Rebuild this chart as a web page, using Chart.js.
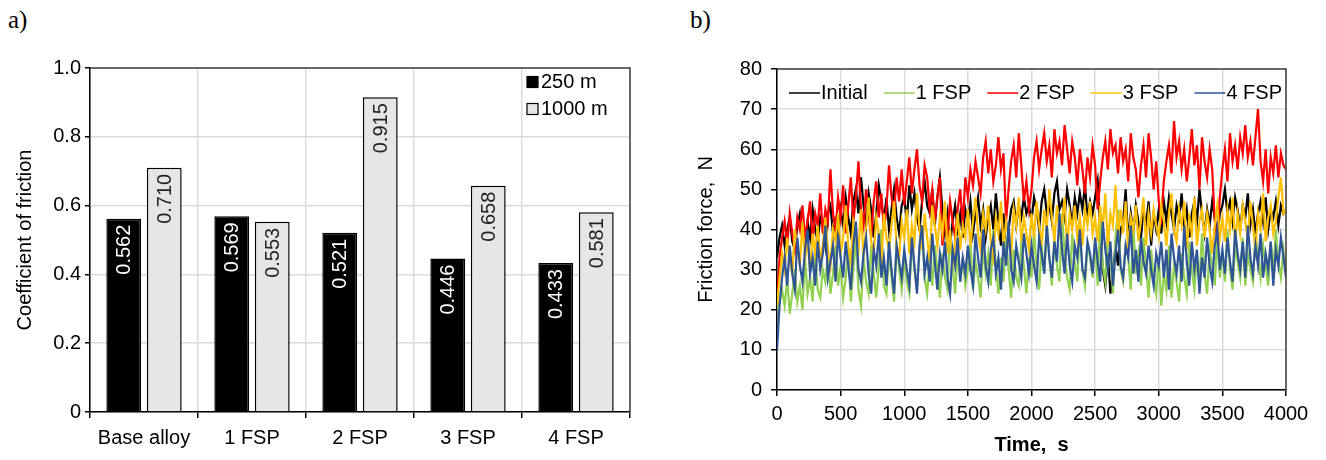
<!DOCTYPE html>
<html>
<head>
<meta charset="utf-8">
<script src="https://cdn.jsdelivr.net/npm/chart.js@4.4.1/dist/chart.umd.min.js"></script>
<style>
  body { margin: 0; background: #fff; width: 1326px; height: 460px; position: relative; overflow: hidden; }
  .panel { position: absolute; top: 0; height: 460px; }
  #boxA { left: 0; width: 660px; }
  #boxB { left: 660px; width: 666px; }
  .tag { position: absolute; top: 6px; font-family: "Liberation Serif", "Times New Roman", serif; font-size: 25px; color: #000; }
</style>
</head>
<body>
<div class="tag" style="left:8px">a)</div>
<div class="tag" style="left:690px">b)</div>
<div id="boxA" class="panel"><canvas id="chartA"></canvas></div>
<div id="boxB" class="panel"><canvas id="chartB"></canvas></div>
<script>
const FONT = '"Liberation Sans", Arial, sans-serif';

// panel a
const CATEGORIES = ['Base alloy', '1 FSP', '2 FSP', '3 FSP', '4 FSP'];
const COF_250 = [0.562, 0.569, 0.521, 0.446, 0.433];
const COF_1000 = [0.710, 0.553, 0.915, 0.658, 0.581];

// panel b, one reading every 20 s from 0 to 4000 s (25 per row = 500 s)
const TIME_STEP_S = 20;
const FORCE_INITIAL = [
  33, 38, 41, 36, 40, 43, 37, 35, 41, 44, 39, 36, 42, 38, 45, 40, 37, 43, 41, 36, 44, 46, 39, 42, 38,
  45, 41, 48, 43, 39, 47, 50, 44, 53, 46, 41, 49, 45, 38, 44, 51, 47, 42, 48, 40, 45, 50, 43, 39, 46,
  48, 42, 51, 45, 49, 43, 40, 47, 52, 46, 44, 50, 41, 48, 53, 45, 39, 44, 36, 42, 46, 40, 44, 38, 45,
  42, 47, 39, 44, 48, 41, 45, 38, 43, 46, 40, 49, 42, 36, 44, 32, 40, 45, 47, 41, 46, 43, 48, 44, 46,
  42, 48, 45, 40, 47, 50, 44, 46, 42, 49, 52, 45, 47, 43, 50, 46, 41, 48, 44, 49, 45, 51, 43, 47, 44,
  48, 52, 40, 30, 26, 34, 24, 29, 36, 31, 40, 42, 50, 37, 44, 39, 46, 42, 38, 45, 41, 47, 36, 44, 40,
  45, 39, 47, 42, 48, 44, 40, 46, 43, 49, 41, 45, 38, 44, 47, 42, 50, 44, 39, 45, 41, 47, 43, 38, 44,
  46, 50, 44, 47, 42, 48, 45, 40, 46, 43, 49, 41, 45, 39, 44, 47, 42, 48, 40, 45, 43, 47, 41, 46, 44,
  45
];
const FORCE_1FSP = [
  20, 22, 25, 21, 28, 19, 24, 30, 22, 26, 20, 33, 24, 28, 22, 35, 25, 23, 30, 27, 34, 24, 29, 36, 26,
  31, 23, 28, 35, 22, 30, 38, 25, 21, 33, 27, 24, 36, 29, 23, 31, 40, 26, 24, 34, 28, 22, 37, 30, 25,
  33, 27, 24, 38, 30, 25, 35, 41, 28, 24, 32, 26, 36, 30, 23, 34, 28, 25, 39, 31, 24, 35, 27, 33, 26,
  30, 37, 25, 32, 28, 23, 36, 29, 34, 26, 40, 31, 24, 33, 27, 38, 30, 23, 35, 28, 26, 37, 31, 24, 33,
  28, 40, 30, 25, 36, 29, 42, 33, 26, 38, 31, 27, 44, 34, 28, 25, 39, 32, 27, 41, 30, 26, 36, 33, 28,
  37, 26, 43, 31, 27, 40, 34, 24, 38, 45, 30, 27, 36, 33, 25, 41, 29, 34, 26, 38, 31, 23, 35, 28, 24,
  33, 21, 29, 25, 36, 23, 31, 27, 22, 34, 28, 24, 37, 30, 25, 33, 27, 39, 29, 24, 35, 31, 26, 38, 28,
  34, 27, 40, 30, 25, 36, 32, 28, 38, 26, 34, 30, 27, 39, 33, 28, 36, 31, 26, 37, 29, 40, 32, 28, 35,
  30
];
const FORCE_2FSP = [
  22, 33, 38, 42, 36, 44, 39, 35, 43, 40, 46, 38, 42, 47, 37, 44, 41, 49, 39, 45, 42, 55, 44, 40, 48,
  43, 51, 39, 46, 53, 42, 48, 57, 45, 41, 50, 44, 38, 47, 52, 43, 49, 40, 45, 56, 48, 44, 53, 47, 55,
  46, 52, 58, 49, 55, 60, 51, 47, 56, 53, 45, 50, 42, 48, 53, 36, 44, 39, 47, 42, 38, 45, 50, 41, 53,
  48, 55, 51, 57, 53, 49, 58, 62, 54, 60, 52, 56, 63, 55, 59, 42, 50, 57, 61, 53, 64, 56, 47, 52, 45,
  50, 58, 62, 55, 60, 64, 57, 61, 53, 65, 59, 62, 56, 66, 60, 54, 62, 58, 51, 60, 55, 49, 58, 53, 61,
  56, 45, 52, 58, 62, 55, 65, 59, 61, 54, 63, 57, 60, 52, 64, 58, 55, 48, 56, 61, 53, 64, 58, 50, 57,
  47, 43, 52, 57, 61, 54, 67, 58, 62, 55, 60, 52, 58, 65, 56, 61, 50, 63, 57, 53, 60, 55, 42, 38, 48,
  55, 60, 52, 64, 57, 61, 55, 63, 59, 66, 58, 62, 56, 63, 70, 57, 52, 60, 49, 58, 54, 61, 53, 59, 56,
  55
];
const FORCE_3FSP = [
  21, 28, 34, 30, 38, 32, 29, 40, 35, 31, 42, 33, 37, 30, 39, 34, 41, 32, 36, 43, 35, 31, 40, 37, 44,
  34, 38, 46, 36, 32, 42, 39, 35, 45, 33, 40, 48, 37, 34, 43, 39, 31, 44, 38, 35, 41, 47, 36, 33, 42,
  38, 45, 34, 41, 37, 49, 40, 35, 44, 38, 32, 46, 41, 36, 43, 39, 47, 34, 40, 31, 37, 44, 35, 41, 38,
  45, 36, 42, 48, 39, 35, 44, 40, 46, 37, 33, 43, 39, 47, 36, 42, 38, 34, 45, 41, 48, 37, 43, 39, 35,
  44, 38, 47, 41, 36, 45, 40, 50, 43, 37, 46, 39, 42, 48, 35, 44, 40, 46, 38, 43, 36, 45, 41, 47, 39,
  43, 37, 46, 40, 49, 36, 44, 41, 51, 38, 45, 39, 47, 35, 43, 40, 46, 37, 42, 48, 36, 44, 39, 45, 41,
  38, 46, 42, 36, 44, 49, 40, 37, 45, 41, 47, 35, 43, 39, 48, 36, 42, 45, 38, 44, 40, 34, 41, 46, 38,
  43, 37, 45, 40, 48, 36, 44, 39, 46, 42, 38, 47, 41, 35, 44, 40, 49, 37, 43, 46, 39, 42, 48, 53, 44,
  45
];
const FORCE_4FSP = [
  10, 21, 28, 33, 26, 36, 29, 25, 38, 31, 27, 35, 40, 29, 33, 26, 37, 30, 34, 41, 28, 32, 36, 27, 39,
  33, 28, 37, 31, 25, 36, 42, 30, 27, 34, 38, 29, 24, 35, 31, 39, 28, 33, 26, 37, 30, 24, 36, 32, 28,
  35, 30, 26, 38, 31, 24, 36, 41, 29, 33, 27, 39, 32, 25, 34, 30, 37, 28, 24, 35, 31, 38, 27, 33, 29,
  36, 30, 26, 39, 33, 28, 40, 31, 27, 35, 38, 29, 33, 25, 37, 31, 42, 30, 27, 36, 32, 28, 39, 34, 29,
  36, 31, 27, 38, 34, 29, 41, 33, 28, 37, 32, 44, 35, 29, 39, 31, 27, 36, 33, 40, 30, 28, 37, 34, 29,
  38, 32, 27, 42, 35, 30, 37, 26, 34, 40, 31, 28, 36, 33, 41, 29, 35, 27, 38, 32, 29, 36, 30, 26, 34,
  31, 37, 28, 35, 25, 39, 33, 29, 36, 27, 41, 32, 26, 37, 30, 35, 24, 33, 28, 38, 31, 27, 36, 40, 30,
  35, 29, 38, 32, 27, 40, 34, 30, 37, 28, 41, 33, 29, 36, 31, 39, 28, 34, 30, 37, 26, 35, 31, 38, 33,
  28
];

const GRID = '#dcdcdc';

function toPoints(values) {
  return values.map((v, i) => ({ x: i * TIME_STEP_S, y: v }));
}

// dark top/right border of the plot box
const frame = {
  id: 'frame',
  afterDraw(chart) {
    const { ctx, chartArea: a } = chart;
    ctx.save();
    ctx.strokeStyle = '#404040';
    ctx.lineWidth = 1.5;
    ctx.beginPath();
    ctx.moveTo(a.left, a.top);
    ctx.lineTo(a.right, a.top);
    ctx.lineTo(a.right, a.bottom);
    ctx.stroke();
    ctx.restore();
  }
};

// vertical value labels inside the bars
const barLabels = {
  id: 'barLabels',
  afterDatasetsDraw(chart) {
    const { ctx } = chart;
    ctx.save();
    ctx.font = `20px ${FONT}`;
    ctx.textAlign = 'right';
    ctx.textBaseline = 'middle';
    chart.data.datasets.forEach((ds, di) => {
      chart.getDatasetMeta(di).data.forEach((bar, i) => {
        ctx.save();
        ctx.translate(bar.x, bar.y + 6);
        ctx.rotate(-Math.PI / 2);
        ctx.fillStyle = ds.labelColor;
        ctx.fillText(ds.data[i].toFixed(3), 0, 1);
        ctx.restore();
      });
    });
    ctx.restore();
  }
};

const legendA = {
  id: 'legendA',
  afterDraw(chart) {
    const { ctx } = chart;
    ctx.save();
    ctx.font = `20px ${FONT}`;
    ctx.textBaseline = 'middle';
    chart.data.datasets.forEach((ds, i) => {
      const y = 82 + i * 27;
      ctx.fillStyle = ds.backgroundColor;
      ctx.fillRect(527, y - 5.5, 11, 11);
      ctx.strokeStyle = '#000';
      ctx.lineWidth = 1.2;
      ctx.strokeRect(527, y - 5.5, 11, 11);
      ctx.fillStyle = '#000';
      ctx.fillText(ds.label, 541, y);
    });
    ctx.restore();
  }
};

const legendB = {
  id: 'legendB',
  afterDraw(chart) {
    const { ctx } = chart;
    ctx.save();
    ctx.font = `20px ${FONT}`;
    ctx.textBaseline = 'middle';
    let x = 129;
    const y = 93;
    chart.data.datasets.forEach(ds => {
      ctx.strokeStyle = ds.borderColor;
      ctx.lineWidth = 1.5;
      ctx.beginPath();
      ctx.moveTo(x, y);
      ctx.lineTo(x + 31, y);
      ctx.stroke();
      ctx.fillStyle = '#000';
      ctx.fillText(ds.label, x + 32, y);
      x += 32 + ctx.measureText(ds.label).width + 16;
    });
    ctx.restore();
  }
};

new Chart(document.getElementById('chartA'), {
  type: 'bar',
  data: {
    labels: CATEGORIES,
    datasets: [
      { label: '250 m', data: COF_250, backgroundColor: '#000', borderColor: '#000', borderWidth: 1.5, labelColor: '#fff' },
      { label: '1000 m', data: COF_1000, backgroundColor: '#e6e6e6', borderColor: '#000', borderWidth: 1.5, labelColor: '#222' }
    ]
  },
  options: {
    responsive: true,
    maintainAspectRatio: false,
    animation: false,
    events: [],
    layout: { padding: { top: 68, right: 30, left: 0, bottom: 0 } },
    datasets: { bar: { categoryPercentage: 0.75, barPercentage: 0.86 } },
    plugins: { legend: { display: false }, tooltip: { enabled: false } },
    scales: {
      x: {
        grid: { color: GRID, lineWidth: 1.5, tickColor: '#000', tickLength: 6 },
        border: { color: '#000', width: 1.5 },
        ticks: { color: '#000', font: { family: FONT, size: 20 }, padding: 8 },
        afterFit: s => { s.height = 48; }
      },
      y: {
        min: 0, max: 1,
        grid: { color: GRID, lineWidth: 1.5, tickColor: '#000', tickLength: 5 },
        border: { color: '#000', width: 1.5 },
        ticks: { stepSize: 0.2, color: '#000', font: { family: FONT, size: 20 }, padding: 4,
          callback: v => v === 0 ? '0' : v.toFixed(1) },
        title: { display: true, text: 'Coefficient of friction', color: '#000',
          font: { family: FONT, size: 20 }, padding: { top: 13, bottom: 0 } },
        afterFit: s => { s.width = 90; }
      }
    }
  },
  plugins: [frame, barLabels, legendA]
});

const SERIES = [
  { label: 'Initial', values: FORCE_INITIAL, color: '#000000' },
  { label: '1 FSP', values: FORCE_1FSP, color: '#92d050' },
  { label: '2 FSP', values: FORCE_2FSP, color: '#ff0000' },
  { label: '3 FSP', values: FORCE_3FSP, color: '#ffc000' },
  { label: '4 FSP', values: FORCE_4FSP, color: '#2f5597' }
];

new Chart(document.getElementById('chartB'), {
  type: 'line',
  data: {
    datasets: SERIES.map((s, i) => ({
      label: s.label,
      data: toPoints(s.values),
      borderColor: s.color,
      backgroundColor: s.color,
      borderWidth: 2.2,
      pointRadius: 0,
      tension: 0,
      order: SERIES.length - i
    }))
  },
  options: {
    responsive: true,
    maintainAspectRatio: false,
    animation: false,
    events: [],
    layout: { padding: { top: 69, right: 40, left: 0, bottom: 0 } },
    plugins: { legend: { display: false }, tooltip: { enabled: false } },
    scales: {
      x: {
        type: 'linear', min: 0, max: 4000,
        grid: { color: GRID, lineWidth: 1.5, tickColor: '#000', tickLength: 6 },
        border: { color: '#000', width: 1.5 },
        ticks: { stepSize: 500, color: '#000', font: { family: FONT, size: 20 }, padding: 6,
          maxRotation: 0, callback: v => String(v) },
        title: { display: true, text: 'Time,  s', color: '#000',
          font: { family: FONT, size: 20, weight: 'bold' }, padding: { top: 0, bottom: 3 } },
        afterFit: s => { s.height = 70; }
      },
      y: {
        min: 0, max: 80,
        grid: { color: GRID, lineWidth: 1.5, tickColor: '#000', tickLength: 6 },
        border: { color: '#000', width: 1.5 },
        ticks: { stepSize: 10, color: '#000', font: { family: FONT, size: 20 }, padding: 9 },
        title: { display: true, text: 'Friction force,  N', color: '#000',
          font: { family: FONT, size: 20 }, padding: { top: 34, bottom: 0 } },
        afterFit: s => { s.width = 117; }
      }
    }
  },
  plugins: [frame, legendB]
});
</script>
</body>
</html>
